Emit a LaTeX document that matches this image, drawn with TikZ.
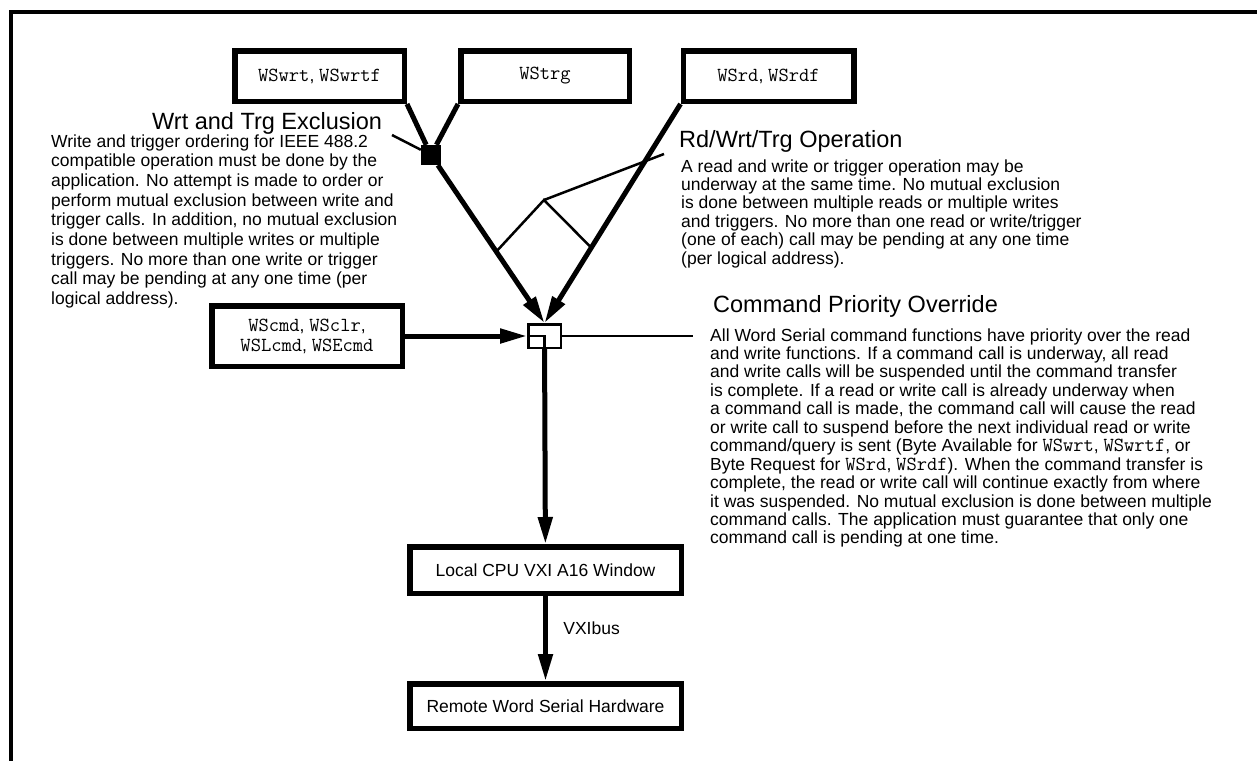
\documentclass[tikz,border=0pt]{standalone}
\usepackage{fontspec}
\setmainfont{Liberation Sans}
\usetikzlibrary{arrows.meta,calc}
\newcommand\call[1]{{\ttfamily\scalebox{1.14}{#1}}}

\begin{document}
\begin{tikzpicture}[x=1pt,y=-1pt,
    callbox/.style={draw,line width=5.5pt,inner sep=0pt,align=center,font=\fontsize{17.5}{20}\selectfont},
    wire/.style={line width=5pt},
    flow/.style={line width=5pt,-{Triangle[length=27pt,width=14pt]}},
    leader/.style={line width=2.5pt},
    note/.style={anchor=base west,inner sep=0pt,font=\fontsize{17.5}{20}\selectfont},
    notehead/.style={anchor=base west,inner sep=0pt,font=\fontsize{23.5}{26}\selectfont}]
  \useasboundingbox (0,0) rectangle (1257,761);
  \draw[line width=4pt] (1257,12) -- (10.5,12) -- (10.5,761);

  % calls
  \node[callbox,minimum width=169.5pt,minimum height=50.5pt] (wrt) at (319.5,76) {\call{WSwrt}, \call{WSwrtf}};
  \node[callbox,minimum width=168.5pt,minimum height=50.5pt] (trg) at (545,76) {\call{WStrg}};
  \node[callbox,minimum width=170.5pt,minimum height=50.5pt] (rd) at (768.5,76) {\call{WSrd}, \call{WSrdf}};
  \node[callbox,minimum width=190.5pt,minimum height=60.5pt] (cmd) at (307,336) {\call{WScmd}, \call{WSclr},\\\call{WSLcmd}, \call{WSEcmd}};

  % junctions
  \node[fill=black,inner sep=0pt,minimum size=20pt] (excl) at (431,155) {};
  \node[draw,line width=2.5pt,inner sep=0pt,minimum width=32.5pt,minimum height=23.5pt] (prio) at (544.5,336) {};

  % hardware
  \node[callbox,minimum width=271.5pt,minimum height=46.5pt] (local) at (545.5,570) {Local CPU VXI A16 Window};
  \node[callbox,minimum width=271.5pt,minimum height=44.5pt] (remote) at (545.5,706) {Remote Word Serial Hardware};

  \draw[wire] (wrt.south east) -- (excl);
  \draw[wire] (trg.south west) -- (excl);
  \draw[flow] (excl) -- (prio.north);
  \draw[flow] (rd.south west) -- (prio.north);
  \draw[flow] (cmd) -- (prio);
  \draw[leader] (prio.west) -- (prio.center) -- (prio.south);
  \draw[flow] (prio) -- (local);
  \draw[flow] (local) -- node[pos=0.38,anchor=west,xshift=12pt,font=\fontsize{17.5}{20}\selectfont] (bus) {VXIbus} (remote);

  % callouts
  \coordinate (exclend) at (392,135);
  \coordinate (lfoot) at ($(excl)!0.575!(prio.north)$);
  \coordinate (rfoot) at ($(rd.south west)!0.656!(prio.north)$);
  \coordinate (apex) at (544,200);
  \coordinate (opend) at (664,154);
  \coordinate (cmdend) at (693,336);
  \draw[leader] (exclend) -- (excl);
  \draw[leader] (lfoot) -- (apex) -- (rfoot);
  \draw[leader] (apex) -- (opend);
  \draw[leader] (prio) -- (cmdend);

  % Wrt and Trg Exclusion
  \node[notehead] (excltitle) at (152,129) {Wrt and Trg Exclusion};
  \foreach \msg [count=\i from 0] in {
      {Write and trigger ordering for IEEE 488.2},
      {compatible operation must be done by the},
      {application. No attempt is made to order or},
      {perform mutual exclusion between write and},
      {trigger calls. In addition, no mutual exclusion},
      {is done between multiple writes or multiple},
      {triggers. No more than one write or trigger},
      {call may be pending at any one time (per},
      {logical address).}}
    \node[note] (excltext\i) at (51,{147+19.7*\i}) {\msg};

  % Rd/Wrt/Trg Operation
  \node[notehead] (optitle) at (679,147) {Rd/Wrt/Trg Operation};
  \foreach \msg [count=\i from 0] in {
      {A read and write or trigger operation may be},
      {underway at the same time. No mutual exclusion},
      {is done between multiple reads or multiple writes},
      {and triggers. No more than one read or write/trigger},
      {(one of each) call may be pending at any one time},
      {(per logical address).}}
    \node[note] (optext\i) at (681,{172+18.4*\i}) {\msg};

  % Command Priority Override
  \node[notehead] (cmdtitle) at (713,312) {Command Priority Override};
  \foreach \msg [count=\i from 0] in {
      {All Word Serial command functions have priority over the read},
      {and write functions. If a command call is underway, all read},
      {and write calls will be suspended until the command transfer},
      {is complete. If a read or write call is already underway when},
      {a command call is made, the command call will cause the read},
      {or write call to suspend before the next individual read or write},
      {command/query is sent (Byte Available for \call{WSwrt}, \call{WSwrtf}, or},
      {Byte Request for \call{WSrd}, \call{WSrdf}). When the command transfer is},
      {complete, the read or write call will continue exactly from where},
      {it was suspended. No mutual exclusion is done between multiple},
      {command calls. The application must guarantee that only one},
      {command call is pending at one time.}}
    \node[note] (cmdtext\i) at (710,{341+18.45*\i}) {\msg};
\end{tikzpicture}
\end{document}
